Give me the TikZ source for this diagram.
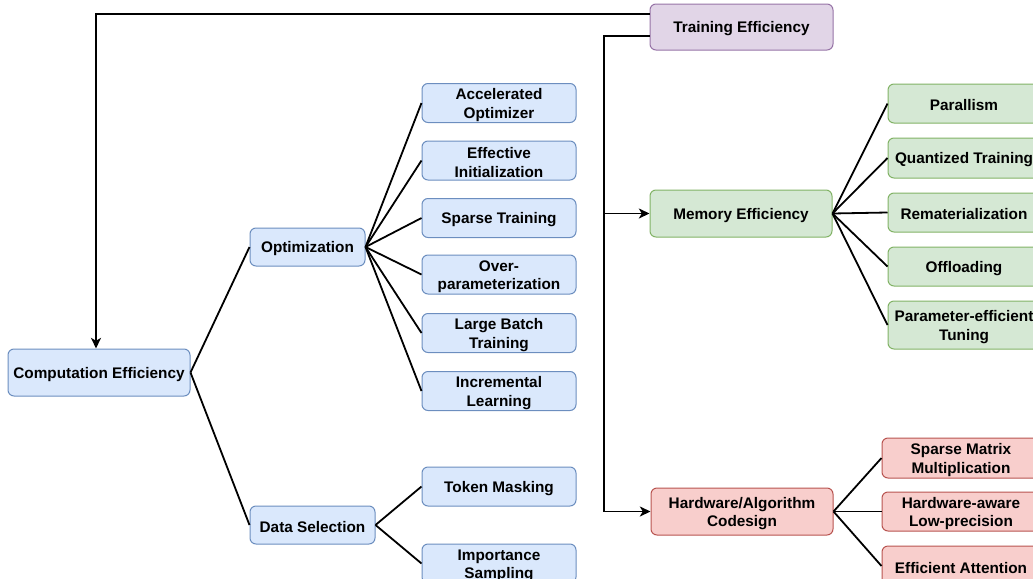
\documentclass[tikz,border=0pt]{standalone}
\usepackage{fontspec}
\setmainfont{Liberation Sans}
\usetikzlibrary{arrows.meta}
\definecolor{bfill}{HTML}{DAE8FC}\definecolor{bdraw}{HTML}{6C8EBF}
\definecolor{gfill}{HTML}{D5E8D4}\definecolor{gdraw}{HTML}{82B366}
\definecolor{rfill}{HTML}{F8CECC}\definecolor{rdraw}{HTML}{B85450}
\definecolor{pfill}{HTML}{E1D5E7}\definecolor{pdraw}{HTML}{9673A6}
\tikzset{
  box/.style={draw, line width=0.75pt, rounded corners=4.5pt, align=center, inner sep=0pt,
    font=\bfseries\fontsize{11.5}{14}\selectfont, text=black,
    execute at begin node={\rule{0pt}{11.2pt}}},
  bluebox/.style={box, fill=bfill, draw=bdraw},
  greenbox/.style={box, fill=gfill, draw=gdraw},
  redbox/.style={box, fill=rfill, draw=rdraw},
  purplebox/.style={box, fill=pfill, draw=pdraw},
  sz/.style 2 args={minimum width=#1*0.75pt, minimum height=#2*0.75pt},
  conn/.style={line width=1.35pt, black},
  arr/.style={conn, -{Stealth[length=8pt,width=7.5pt,inset=2.2pt]}}
}
\newcommand\fl{\rule{0pt}{11.6pt}}
\begin{document}
\begin{tikzpicture}[x=0.75pt,y=-0.75pt]
\useasboundingbox (0,0) rectangle (1033,579);
% main nodes
\node[purplebox, sz={183}{46}] (te) at (741.5,27) {Training Efficiency};
\node[greenbox, sz={182}{47}] (me) at (741,213.5) {Memory Efficiency};
\node[redbox, sz={182}{47}] (hw) at (742,511.5) {\fl Hardware/Algorithm\\Codesign};
\node[bluebox, sz={182}{47}] (ce) at (99,372.5) {Computation Efficiency};
\node[bluebox, sz={115}{38}] (opt) at (307.5,247) {Optimization};
\node[bluebox, sz={125}{38}] (ds) at (312.5,525) {Data Selection};
% optimization children
\node[bluebox, sz={154}{39}] (o1) at (499,103) {\fl Accelerated\\Optimizer};
\node[bluebox, sz={154}{39}] (o2) at (499,160.5) {\fl Effective\\Initialization};
\node[bluebox, sz={154}{39}] (o3) at (499,218) {Sparse Training};
\node[bluebox, sz={154}{39}] (o4) at (499,274.5) {\fl Over-\\parameterization};
\node[bluebox, sz={154}{39}] (o5) at (499,333) {\fl Large Batch\\Training};
\node[bluebox, sz={154}{39}] (o6) at (499,391) {\fl Incremental\\Learning};
% data selection children
\node[bluebox, sz={154}{39}] (d1) at (499,486.5) {Token Masking};
\node[bluebox, sz={154}{39}] (d2) at (499,563.5) {\fl Importance\\Sampling};
% memory children
\node[greenbox, sz={152}{39}] (m1) at (964,103.5) {Parallism};
\node[greenbox, sz={152}{40}] (m2) at (964,158) {Quantized Training};
\node[greenbox, sz={152}{39}] (m3) at (964,212.5) {Rematerialization};
\node[greenbox, sz={152}{39}] (m4) at (964,266.5) {Offloading};
\node[greenbox, sz={152}{48}] (m5) at (964,325) {\fl Parameter-efficient\\Tuning};
% hardware children
\node[redbox, sz={158}{40}] (h1) at (961,458) {\fl Sparse Matrix\\Multiplication};
\node[redbox, sz={158}{39}] (h2) at (961,511.5) {\fl Hardware-aware\\Low-precision};
\node[redbox, sz={158}{40}] (h3) at (961,566) {Efficient Attention};
% helper coordinates
\coordinate (ya) at (0,14);
\coordinate (yb) at (0,36);
\coordinate (bus) at (604,36);
\coordinate (busm) at (604,213.5);
% training efficiency connectors
\draw[arr] (te.west |- ya) -| ([xshift=-2.25pt]ce.north);
\draw[arr] (te.west |- yb) -- (bus) |- (hw.west);
\draw[arr] (busm) -- (me.west);
% tree connectors
\foreach \c in {opt,ds} \draw[conn] (ce.east) -- (\c.west);
\foreach \c in {o1,o2,o3,o4,o5,o6} \draw[conn] (opt.east) -- (\c.west);
\foreach \c in {d1,d2} \draw[conn] (ds.east) -- (\c.west);
\foreach \c in {m1,m2,m3,m4,m5} \draw[conn] (me.east) -- (\c.west);
\foreach \c in {h1,h2,h3} \draw[conn] (hw.east) -- (\c.west);
\end{tikzpicture}
\end{document}
